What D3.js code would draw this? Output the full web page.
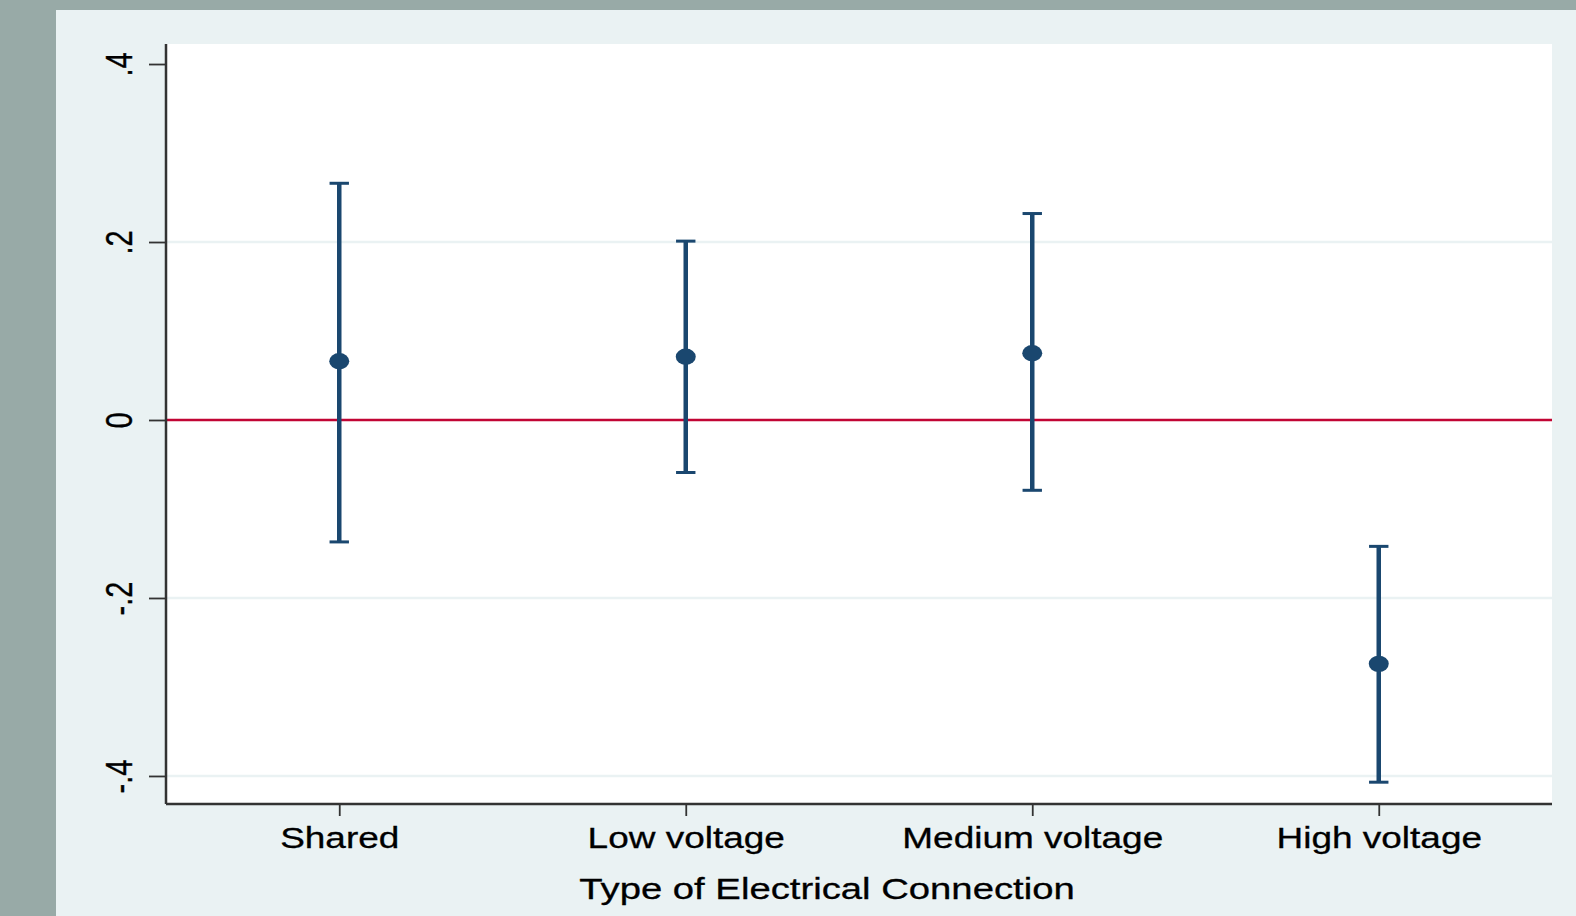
<!DOCTYPE html>
<html>
<head>
<meta charset="utf-8">
<script src="https://cdn.jsdelivr.net/npm/d3@7"></script>
<style>
  body { margin: 0; background: #98aaa7; }
  svg { display: block; }
</style>
</head>
<body>
<div id="chart"></div>
<script>
// data
const categories = ["Shared", "Low voltage", "Medium voltage", "High voltage"];
const estimates = [0.066, 0.071, 0.075, -0.274];
const lower = [-0.137, -0.059, -0.079, -0.407];
const upper = [0.266, 0.201, 0.232, -0.142];
const yTicks = [-0.4, -0.2, 0, 0.2, 0.4];
const yTickLabels = ["-.4", "-.2", "0", ".2", ".4"];

const width = 1576, height = 916;
const navy = "#1a476f";
const refColor = "#c10534";
const bg = "#eaf2f3";
const font = "Liberation Sans, Arial, sans-serif";
const stretch = 1.275; // the original picture is widened horizontally

const svg = d3.select("#chart")
  .append("svg")
  .attr("width", width)
  .attr("height", height);

// outer frame and graph region
svg.append("rect").attr("width", width).attr("height", height).attr("fill", "#98aaa7");
svg.append("rect").attr("x", 56).attr("y", 10).attr("width", width - 56).attr("height", height - 10).attr("fill", bg);

const plotL = 166, plotR = 1552, plotT = 44, plotB = 804;
svg.append("rect").attr("x", plotL).attr("y", plotT).attr("width", plotR - plotL).attr("height", plotB - plotT).attr("fill", "white");

const x = d3.scaleLinear().domain([0.5, 4.5]).range([plotL, plotR]);
const y = d3.scaleLinear().domain([-0.4315, 0.4225]).range([plotB, plotT]);

// gridlines (none at the top tick)
svg.selectAll("line.grid")
  .data(yTicks.filter(d => d !== 0 && d !== 0.4))
  .enter()
  .append("line")
  .attr("class", "grid")
  .attr("x1", plotL).attr("x2", plotR)
  .attr("y1", d => y(d)).attr("y2", d => y(d))
  .attr("stroke", bg)
  .attr("stroke-width", 2.5);

// zero reference line
svg.append("line")
  .attr("x1", plotL).attr("x2", plotR)
  .attr("y1", y(0)).attr("y2", y(0))
  .attr("stroke", refColor)
  .attr("stroke-width", 2.5);

// y axis
const yAxis = svg.append("g")
  .attr("transform", `translate(${plotL},0)`)
  .call(d3.axisLeft(y).tickValues(yTicks).tickSize(17).tickPadding(0).tickFormat((d, i) => yTickLabels[i]));
yAxis.select(".domain").attr("stroke", "#333").attr("stroke-width", 2.5).attr("d", `M0,${plotT}V${plotB}`);
yAxis.selectAll(".tick line").attr("stroke", "#333").attr("stroke-width", 1.8);
yAxis.selectAll(".tick text")
  .attr("x", null)
  .attr("transform", `translate(-47,0) scale(${stretch},1) rotate(-90)`)
  .attr("text-anchor", "middle")
  .attr("dy", "0.35em")
  .attr("font-family", font)
  .attr("font-size", 29)
  .attr("stroke", "#000").attr("stroke-width", 0.3)
  .attr("fill", "#000");

// x axis
const xAxis = svg.append("g")
  .attr("transform", `translate(0,${plotB})`)
  .call(d3.axisBottom(x).tickValues([1, 2, 3, 4]).tickSize(12).tickPadding(0).tickFormat((d, i) => categories[i]));
xAxis.select(".domain").attr("stroke", "#333").attr("stroke-width", 2.5).attr("d", `M${plotL},0H${plotR}`);
xAxis.selectAll(".tick line").attr("stroke", "#333").attr("stroke-width", 1.8);
xAxis.selectAll(".tick text")
  .attr("y", null).attr("dy", null)
  .attr("transform", `translate(0,44) scale(${stretch},1)`)
  .attr("font-family", font)
  .attr("font-size", 29)
  .attr("stroke", "#000").attr("stroke-width", 0.3)
  .attr("fill", "#000");

svg.append("text")
  .attr("transform", `translate(827,899) scale(1.32,1)`)
  .attr("text-anchor", "middle")
  .attr("font-family", font)
  .attr("font-size", 29)
  .attr("stroke", "#000").attr("stroke-width", 0.3)
  .text("Type of Electrical Connection");

// error bars
const bars = svg.append("g");
categories.forEach((c, i) => {
  const cx = x(i + 1);
  bars.append("line")
    .attr("x1", cx).attr("x2", cx)
    .attr("y1", y(lower[i])).attr("y2", y(upper[i]))
    .attr("stroke", navy).attr("stroke-width", 4.5);
  [lower[i], upper[i]].forEach(v => {
    bars.append("line")
      .attr("x1", cx - 9.7).attr("x2", cx + 9.7)
      .attr("y1", y(v)).attr("y2", y(v))
      .attr("stroke", navy).attr("stroke-width", 3);
  });
});

svg.selectAll("ellipse.pt")
  .data(estimates)
  .enter()
  .append("ellipse")
  .attr("class", "pt")
  .attr("cx", (d, i) => x(i + 1))
  .attr("cy", d => y(d))
  .attr("rx", 10)
  .attr("ry", 8.2)
  .attr("fill", navy);
</script>
</body>
</html>
